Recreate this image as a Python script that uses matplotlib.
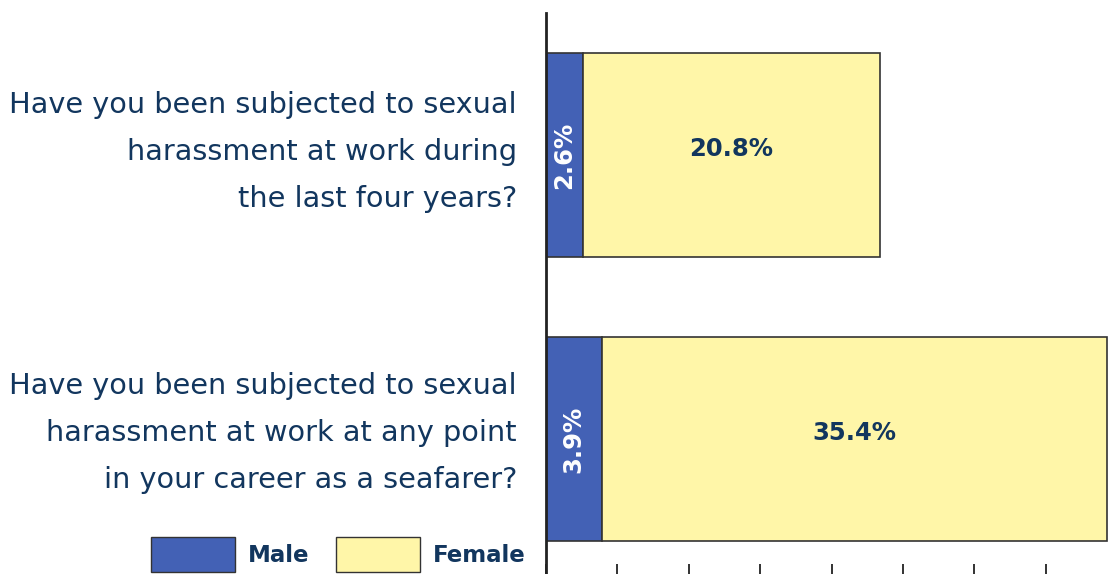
import matplotlib.pyplot as plt
from matplotlib.patches import Patch

questions = [
    "Have you been subjected to sexual\nharassment at work during\nthe last four years?",
    "Have you been subjected to sexual\nharassment at work at any point\nin your career as a seafarer?",
]
male = [2.6, 3.9]
female = [20.8, 35.4]

blue = "#4361b5"
yellow = "#fff6a8"
navy = "#12365e"
edge = "#333333"

plt.rcParams['font.family'] = ['DejaVu Sans']

fig = plt.figure(figsize=(11.15, 5.74), dpi=100)
ax = fig.add_axes([546 / 1115, 0.0, 1 - 546 / 1115, 1 - 13 / 574])

ypos = [1, 0]
h = 0.72
ax.barh(ypos, male, height=h, color=blue, edgecolor=edge, linewidth=1.2)
ax.barh(ypos, female, left=male, height=h, color=yellow, edgecolor=edge, linewidth=1.2)

for i, (y, m, f) in enumerate(zip(ypos, male, female)):
    ax.text(m / 2, y, f"{m}%", rotation=90, ha='center', va='center',
            color='white', fontsize=17.5, fontweight='bold')
    ax.text(m + f / 2, y + 0.02, f"{f}%", ha='center', va='center',
            color=navy, fontsize=17.5, fontweight='bold')
    ax.text(-29 / 14.28, y + 0.01 + 0.01 * i, questions[i], ha='right', va='center',
            color=navy, fontsize=20.7, linespacing=1.86)

ax.set_xlim(0, 39.85)
ax.set_ylim(-0.475, 1.5)
ax.set_xticks(range(0, 40, 5))
ax.tick_params(axis='x', direction='in', length=7, width=1.3, labelbottom=False, color='#222222')
ax.set_yticks([])
for s in ['top', 'right', 'bottom']:
    ax.spines[s].set_visible(False)
ax.spines['left'].set_linewidth(2)
ax.spines['left'].set_color('#222222')

handles = [Patch(facecolor=blue, edgecolor=edge, label='Male'),
           Patch(facecolor=yellow, edgecolor=edge, label='Female')]
leg = fig.legend(handles=handles, loc='lower left', bbox_to_anchor=(151 / 1115, 2 / 574),
                 ncol=2, frameon=False, borderpad=0, borderaxespad=0,
                 handlelength=3.67, handleheight=1.95, handletextpad=0.57, columnspacing=1.14,
                 prop={'size': 16.5, 'weight': 'bold'})
for t in leg.get_texts():
    t.set_color(navy)

fig.savefig("out.png", dpi=100)
